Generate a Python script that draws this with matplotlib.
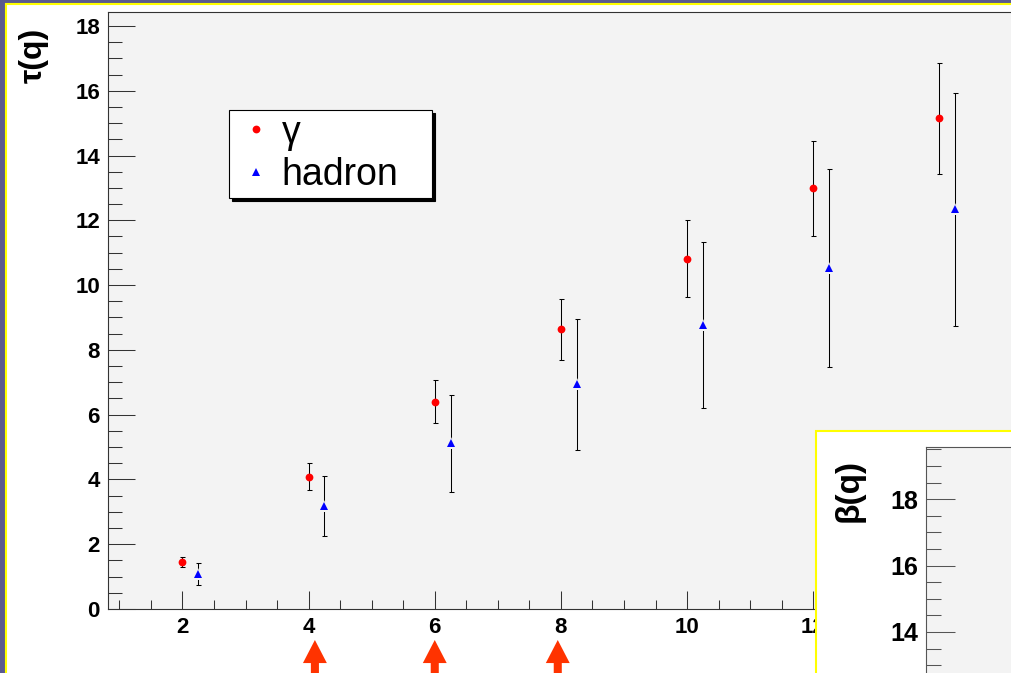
import numpy as np
import matplotlib
matplotlib.use("Agg")
from matplotlib import pyplot as plt
from matplotlib.patches import Rectangle
from matplotlib.ticker import MultipleLocator

plt.rcParams["font.family"] = ["Liberation Sans", "DejaVu Sans"]

W, H = 1011, 673

# tau(q) for the two samples, with symmetric errors
q_gamma = [2, 4, 6, 8, 10, 12, 14]
tau_gamma = [1.46, 4.08, 6.40, 8.63, 10.82, 12.99, 15.15]
err_gamma = [0.16, 0.42, 0.67, 0.94, 1.19, 1.47, 1.71]

q_hadron = [2.25, 4.25, 6.25, 8.25, 10.25, 12.25, 14.25]
tau_hadron = [1.08, 3.18, 5.11, 6.94, 8.77, 10.53, 12.34]
err_hadron = [0.33, 0.94, 1.49, 2.02, 2.55, 3.05, 3.60]

# q values flagged below the axis
arrow_q = [4.1, 6.0, 7.95]

frame_bg = '#f3f3f3'
frame_col = '#333333'


def fig_box(x0, y0, x1, y1):
    # pixel box measured from the top-left corner -> figure fraction rect
    return [x0 / W, 1 - y1 / H, (x1 - x0) / W, (y1 - y0) / H]


fig = plt.figure(figsize=(W / 100, H / 100), dpi=100, facecolor='#5b5b8e')

# white pad with yellow border
pad = Rectangle((6 / W, -0.1), 1.2, 1.1 - 4 / H, transform=fig.transFigure,
                facecolor='white', edgecolor='#ffff00', lw=1.5, zorder=-1)
fig.add_artist(pad)

# ---------------- main frame: tau(q) ----------------
xmin, xmax = 0.82, 15.9
ymin, ymax = 0.0, 18.43
ax = fig.add_axes(fig_box(108, 12, 108 + (xmax - xmin) * 63.08, 609))
ax.set_facecolor(frame_bg)
ax.set_xlim(xmin, xmax)
ax.set_ylim(ymin, ymax)

ax.errorbar(q_gamma, tau_gamma, yerr=err_gamma, fmt='none', ecolor='black',
            elinewidth=0.75, capsize=1.8, capthick=0.75, zorder=2)
ax.errorbar(q_hadron, tau_hadron, yerr=err_hadron, fmt='none', ecolor='black',
            elinewidth=0.75, capsize=1.8, capthick=0.75, zorder=2)

ax.plot(q_gamma, tau_gamma, 'o', color='#ff0000', markersize=5.6, mew=0,
        label='γ', zorder=4)
# small gap around the triangles, as in the ROOT drawing
ax.plot(q_hadron, tau_hadron, '^', color=frame_bg, markersize=8.5, mew=0, zorder=3)
ax.plot(q_hadron, tau_hadron, '^', color='#0000ff', markersize=5.6, mew=0,
        label='hadron', zorder=4)

ax.xaxis.set_major_locator(MultipleLocator(2))
ax.xaxis.set_minor_locator(MultipleLocator(0.5))
ax.yaxis.set_major_locator(MultipleLocator(2))
ax.yaxis.set_minor_locator(MultipleLocator(0.5))
ax.tick_params(axis='x', which='major', direction='in', length=13, width=0.75,
               color=frame_col, pad=5.5, labelsize=16)
ax.tick_params(axis='x', which='minor', direction='in', length=6.3, width=0.75,
               color=frame_col)
ax.tick_params(axis='y', which='major', direction='in', length=19.5, width=0.75,
               color=frame_col, pad=5.8, labelsize=16)
ax.tick_params(axis='y', which='minor', direction='in', length=10, width=0.75,
               color=frame_col)
for lab in ax.get_xticklabels() + ax.get_yticklabels():
    lab.set_fontweight('bold')
for sp in ax.spines.values():
    sp.set_color(frame_col)
    sp.set_linewidth(0.8)

fig.text(34 / W, 1 - 55 / H, 'τ(q)', rotation=90, ha='center', va='center',
         fontsize=23, fontweight='bold')

leg = ax.legend(loc='upper left', bbox_to_anchor=fig_box(229, 110, 432, 198),
                bbox_transform=fig.transFigure, mode='expand', borderaxespad=0,
                fontsize=27, borderpad=0.12, labelspacing=0.18,
                handlelength=1.2, handletextpad=0.08, numpoints=1,
                fancybox=False, framealpha=1, facecolor='white',
                edgecolor='black', shadow={'color': 'black', 'alpha': 1})
leg.get_frame().set_linewidth(0.8)

for q in arrow_q:
    ax.annotate('', xy=(q, H - 640), xycoords=('data', 'figure pixels'),
                xytext=(q, -20), textcoords=('data', 'figure pixels'),
                annotation_clip=False,
                arrowprops=dict(arrowstyle='simple,head_length=0.83,head_width=0.86,tail_width=0.29',
                                mutation_scale=20, color='#ff3300', lw=0,
                                shrinkA=0, shrinkB=0))

# ---------------- inset pad: beta(q) ----------------
inset_pad = Rectangle((816 / W, -0.2), 0.5, 1.2 - 431 / H, transform=fig.transFigure,
                      facecolor='white', edgecolor='#ffff00', lw=1.5, zorder=1)
fig.add_artist(inset_pad)

b_top = 19.58
axi = fig.add_axes(fig_box(926, 446.7, 1150, 692))
axi.set_zorder(2)
axi.set_facecolor(frame_bg)
axi.set_ylim(b_top - (692 - 446.7) / 33.2, b_top)
axi.set_xlim(0, 1)
axi.set_xticks([])
axi.yaxis.set_major_locator(MultipleLocator(2))
axi.yaxis.set_minor_locator(MultipleLocator(0.5))
axi.tick_params(axis='y', which='major', direction='in', length=21, width=0.75,
                color='#555555', pad=5.8, labelsize=18)
axi.tick_params(axis='y', which='minor', direction='in', length=10.5, width=0.75,
                color='#555555')
for lab in axi.get_yticklabels():
    lab.set_fontweight('bold')
for sp in axi.spines.values():
    sp.set_color('#555555')
    sp.set_linewidth(0.8)

fig.text(849 / W, 1 - 490 / H, 'β(q)', rotation=90, ha='center', va='center',
         fontsize=24, fontweight='bold')

fig.savefig('out.png', dpi=100, facecolor=fig.get_facecolor())
